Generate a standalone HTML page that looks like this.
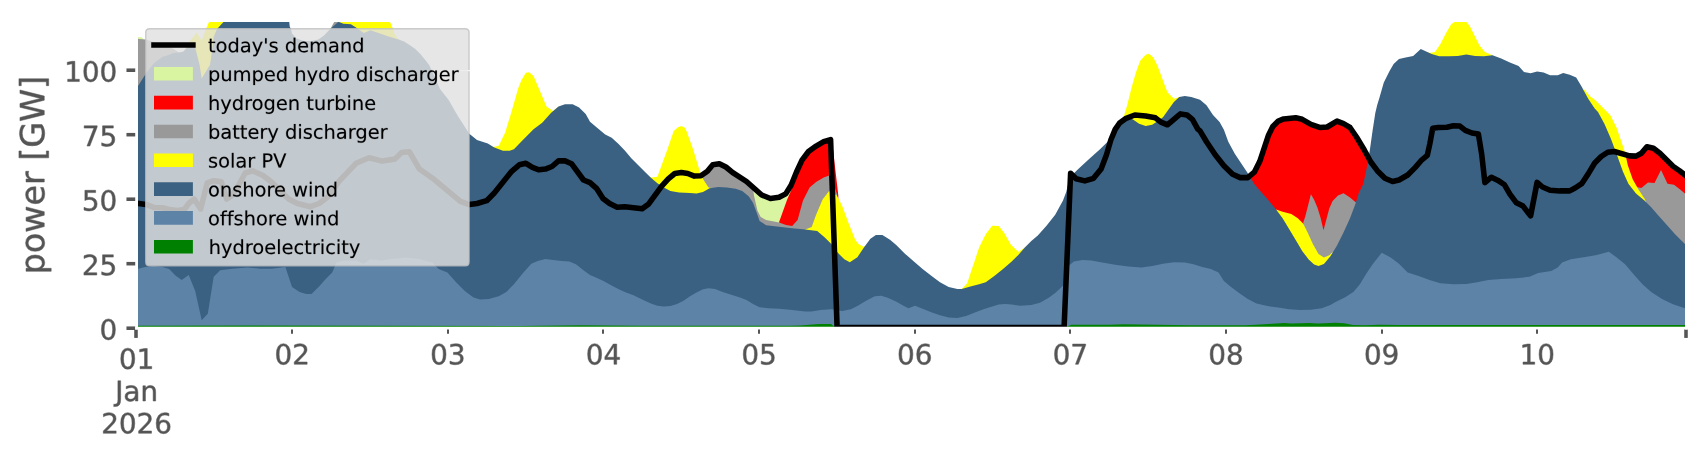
<!DOCTYPE html>
<html><head><meta charset="utf-8"><title>power chart</title>
<style>
html,body{margin:0;padding:0;background:#fff;font-family:"Liberation Sans",sans-serif;}
body{width:1706px;height:460px;overflow:hidden;}
svg{display:block;}
g[id^="text_"] path{vector-effect:non-scaling-stroke;}
</style></head><body>
<svg width="1706" height="460" viewBox="0 0 614.16 165.6" version="1.1">
 <defs>
  <style type="text/css">*{stroke-linejoin: round; stroke-linecap: butt}</style>
 </defs>
 <g id="figure_1">
  <g id="patch_1">
   <path d="M 0 165.6 
L 614.16 165.6 
L 614.16 0 
L 0 0 
z
" style="fill: #ffffff"/>
  </g>
  <g id="axes_1">
   <g id="patch_2">
    <path d="M 49.176 118.152 
L 607.104 118.152 
L 607.104 7.4376 
L 49.176 7.4376 
z
" style="fill: #ffffff"/>
   </g>
   <g id="patch_3">
    <path d="M 49.176 119.952 
L 49.176 13.32 
L 50.94 13.392 
L 51.768 14.112 
L 51.768 119.952 
z
" clip-path="url(#pe8a049c3de)" style="fill: #d9f5a2"/>
   </g>
   <g id="patch_4">
    <path d="M 271.476 119.952 
L 271.476 68.58 
L 271.872 68.328 
L 274.212 70.2 
L 277.344 71.46 
L 280.476 71.028 
L 282.852 69.804 
L 284.796 66.672 
L 285.948 65.88 
L 285.948 119.952 
z
" clip-path="url(#pe8a049c3de)" style="fill: #d9f5a2"/>
   </g>
   <g id="patch_5">
    <path d="M 280.476 119.952 
L 280.476 79.92 
L 283.32 72 
L 285.948 65.88 
L 286.74 61.992 
L 288.72 57.672 
L 291.06 54.54 
L 293.796 52.596 
L 296.532 51.012 
L 299.484 50.184 
L 301.788 70.272 
L 301.788 119.952 
z
" clip-path="url(#pe8a049c3de)" style="fill: #ff0000"/>
   </g>
   <g id="patch_6">
    <path d="M 449.208 119.952 
L 449.208 63 
L 451.548 61.992 
L 453.528 58.068 
L 455.076 53.388 
L 456.66 48.672 
L 458.208 45.54 
L 460.188 43.596 
L 462.132 42.804 
L 466.452 42.408 
L 468.792 42.948 
L 471.924 44.748 
L 475.056 45.864 
L 477.792 45.72 
L 479.736 44.532 
L 481.32 43.596 
L 483.66 44.532 
L 486 45.9 
L 488.34 49.32 
L 491.148 54 
L 493.38 57.96 
L 493.38 119.952 
z
" clip-path="url(#pe8a049c3de)" style="fill: #ff0000"/>
   </g>
   <g id="patch_7">
    <path d="M 584.64 119.952 
L 584.64 54.9 
L 586.62 56.124 
L 588.96 56.196 
L 590.904 55.188 
L 592.884 52.812 
L 595.224 53.388 
L 597.564 55.188 
L 599.904 57.528 
L 602.28 59.868 
L 604.62 61.452 
L 607.104 63.36 
L 607.104 119.952 
z
" clip-path="url(#pe8a049c3de)" style="fill: #ff0000"/>
   </g>
   <g id="patch_8">
    <path d="M 49.176 119.952 
L 49.176 13.932 
L 52.452 14.184 
L 57.6 15.84 
L 62.064 17.352 
L 64.404 18.9 
L 64.404 119.952 
z
" clip-path="url(#pe8a049c3de)" style="fill: #999999"/>
   </g>
   <g id="patch_9">
    <path d="M 118.872 119.952 
L 118.872 10.512 
L 120.312 7.92 
L 120.78 7.02 
L 121.824 7.02 
L 121.824 119.952 
z
" clip-path="url(#pe8a049c3de)" style="fill: #999999"/>
   </g>
   <g id="patch_10">
    <path d="M 252.324 119.952 
L 252.324 63.252 
L 254.664 61.668 
L 256.608 59.328 
L 258.948 58.932 
L 261.324 60.12 
L 263.664 62.064 
L 266.4 63.9 
L 268.74 65.34 
L 271.08 67.464 
L 271.476 70.56 
L 272.664 75.744 
L 273.852 78.12 
L 275.796 79.2 
L 280.476 80.064 
L 282.96 81 
L 285.192 81.36 
L 287.136 79.2 
L 289.08 72.144 
L 291.456 67.464 
L 293.796 65.52 
L 296.532 63.936 
L 298.476 63.144 
L 299.016 63 
L 301.356 70.02 
L 301.356 119.952 
z
" clip-path="url(#pe8a049c3de)" style="fill: #999999"/>
   </g>
   <g id="patch_11">
    <path d="M 469.188 119.952 
L 469.188 80.136 
L 469.944 77.796 
L 471.132 73.08 
L 471.924 69.948 
L 473.076 71.928 
L 474.264 74.664 
L 475.452 78.588 
L 476.46 82.872 
L 477.396 79.344 
L 478.548 75.06 
L 479.736 72.324 
L 481.68 70.344 
L 483.66 69.588 
L 486 71.136 
L 488.34 73.08 
L 488.88 71.28 
L 488.88 119.952 
z
" clip-path="url(#pe8a049c3de)" style="fill: #999999"/>
   </g>
   <g id="patch_12">
    <path d="M 588.6 119.952 
L 588.6 66.24 
L 588.96 67.32 
L 590.904 67.68 
L 593.28 65.736 
L 595.62 65.88 
L 597.96 61.2 
L 600.3 66.132 
L 602.64 66.528 
L 604.62 68.076 
L 606.564 69.66 
L 607.104 70.02 
L 607.104 119.952 
z
" clip-path="url(#pe8a049c3de)" style="fill: #999999"/>
   </g>
   <g id="patch_13">
    <path d="M 66.168 119.952 
L 66.168 18.504 
L 68.544 14.58 
L 70.884 11.7 
L 72.54 14.76 
L 74.16 10.44 
L 75.24 7.92 
L 76.32 3.6 
L 81 3.6 
L 81 119.952 
z
" clip-path="url(#pe8a049c3de)" style="fill: #ffff00"/>
   </g>
   <g id="patch_14">
    <path d="M 121.824 119.952 
L 121.824 8.028 
L 122.76 2.88 
L 139.86 2.88 
L 140.4 7.956 
L 141.192 9.72 
L 142.344 12.852 
L 143.532 14.22 
L 143.532 119.952 
z
" clip-path="url(#pe8a049c3de)" style="fill: #ffff00"/>
   </g>
   <g id="patch_15">
    <path d="M 177.588 119.952 
L 177.588 52.884 
L 179.532 52.452 
L 181.872 47.736 
L 184.212 39.924 
L 186.588 31.68 
L 187.74 28.8 
L 189.324 26.208 
L 190.476 26.028 
L 192.06 27.396 
L 194.4 32.868 
L 196.74 38.34 
L 199.08 39.924 
L 201.06 38.34 
L 201.06 119.952 
z
" clip-path="url(#pe8a049c3de)" style="fill: #ffff00"/>
   </g>
   <g id="patch_16">
    <path d="M 233.46 119.952 
L 233.46 63.54 
L 234.72 63.9 
L 236.664 63.612 
L 240.192 54 
L 242.532 47.16 
L 244.08 45.792 
L 245.268 45.396 
L 246.456 45.936 
L 247.212 47.34 
L 249.588 54 
L 251.928 61.668 
L 253.08 64.404 
L 255.06 67.536 
L 255.96 67.68 
L 255.96 119.952 
z
" clip-path="url(#pe8a049c3de)" style="fill: #ffff00"/>
   </g>
   <g id="patch_17">
    <path d="M 289.872 119.952 
L 289.872 82.656 
L 292.212 81.72 
L 293.796 77.328 
L 296.136 71.856 
L 298.476 68.724 
L 301.212 70.272 
L 303.192 74.196 
L 305.532 80.46 
L 307.872 86.328 
L 309.06 87.876 
L 311.004 88.92 
L 311.76 88.2 
L 311.76 119.952 
z
" clip-path="url(#pe8a049c3de)" style="fill: #ffff00"/>
   </g>
   <g id="patch_18">
    <path d="M 346.212 119.952 
L 346.212 104.076 
L 348.192 101.988 
L 349.344 98.46 
L 350.928 93.744 
L 352.476 89.064 
L 354.852 84.348 
L 357.192 81.252 
L 359.532 81.396 
L 361.476 83.808 
L 363.852 88.056 
L 366.588 90.612 
L 368.928 89.064 
L 368.928 119.952 
z
" clip-path="url(#pe8a049c3de)" style="fill: #ffff00"/>
   </g>
   <g id="patch_19">
    <path d="M 403.56 119.952 
L 403.56 43.56 
L 404.604 41.796 
L 405.792 37.872 
L 407.34 31.608 
L 408.924 26.136 
L 410.472 21.852 
L 412.452 19.728 
L 413.604 19.332 
L 415.188 20.664 
L 416.736 23.796 
L 418.32 28.08 
L 420.264 33.192 
L 422.604 35.532 
L 424.548 34.92 
L 424.548 119.952 
z
" clip-path="url(#pe8a049c3de)" style="fill: #ffff00"/>
   </g>
   <g id="patch_20">
    <path d="M 459.396 119.952 
L 459.396 75.456 
L 461.736 76.212 
L 464.868 77.004 
L 467.208 78.588 
L 469.188 80.532 
L 470.736 83.664 
L 472.68 87.948 
L 474.66 91.476 
L 476.604 92.664 
L 478.548 91.872 
L 479.736 90.72 
L 479.736 119.952 
z
" clip-path="url(#pe8a049c3de)" style="fill: #ffff00"/>
   </g>
   <g id="patch_21">
    <path d="M 513.72 119.952 
L 513.72 18.72 
L 514.62 19.08 
L 516.564 18.72 
L 518.508 15.948 
L 520.488 12.06 
L 522.432 8.748 
L 523.62 7.92 
L 524.16 5.4 
L 527.508 5.4 
L 527.904 7.92 
L 529.092 9.324 
L 531.036 13.212 
L 532.62 16.344 
L 534.564 18.72 
L 537.3 19.872 
L 537.3 119.952 
z
" clip-path="url(#pe8a049c3de)" style="fill: #ffff00"/>
   </g>
   <g id="patch_22">
    <path d="M 570.168 119.952 
L 570.168 32.004 
L 572.508 34.74 
L 574.236 36 
L 576.972 38.736 
L 579.708 41.472 
L 582.048 46.188 
L 583.92 51.66 
L 585 54.792 
L 586.008 59.472 
L 587.772 64.548 
L 589.752 68.076 
L 592.092 71.604 
L 592.56 72.72 
L 592.56 119.952 
z
" clip-path="url(#pe8a049c3de)" style="fill: #ffff00"/>
   </g>
   <g id="patch_23">
    <path d="M 49.176 119.952 
L 49.176 31.68 
L 49.68 30.996 
L 52.668 26.28 
L 55.404 22.788 
L 58.536 20.412 
L 60.48 19.872 
L 62.46 19.08 
L 64.404 18.9 
L 65.988 18.504 
L 68.544 15.84 
L 70.272 17.136 
L 71.856 23.4 
L 72.612 28.26 
L 75.564 23.4 
L 75.96 21.06 
L 76.932 13.212 
L 78.12 10.476 
L 80.46 7.956 
L 81.36 4.32 
L 103.752 4.32 
L 104.328 9.72 
L 104.724 10.296 
L 105.12 12.06 
L 106.668 13.824 
L 109.404 14.796 
L 112.212 14.796 
L 114.588 14.22 
L 116.532 12.852 
L 118.08 11.268 
L 119.088 10.296 
L 121.752 7.92 
L 122.04 7.884 
L 123.624 8.532 
L 126.324 8.712 
L 128.7 10.296 
L 131.004 11.844 
L 133.344 10.872 
L 135.72 11.664 
L 139.608 13.032 
L 143.532 14.22 
L 145.476 14.976 
L 147.456 16.164 
L 149.4 17.532 
L 151.344 19.476 
L 153.324 21.852 
L 154.476 23.4 
L 156.348 27.36 
L 158.4 32.076 
L 161.532 36 
L 164.664 41.472 
L 168.948 48.132 
L 171.72 50.4 
L 175.608 51.66 
L 177.948 53.136 
L 181.08 54.252 
L 183.456 54.252 
L 185.004 53.748 
L 188.136 50.472 
L 192.06 46.548 
L 195.192 44.208 
L 198.324 40.68 
L 201.06 38.34 
L 203.4 37.548 
L 206.136 37.548 
L 208.476 38.736 
L 210.852 41.076 
L 212.4 43.812 
L 214.74 45.792 
L 217.872 48.456 
L 220.212 49.608 
L 222.588 51.768 
L 224.928 54.144 
L 227.268 56.988 
L 229.608 59.328 
L 231.948 61.668 
L 234.324 64.008 
L 236.664 65.988 
L 239.004 67.536 
L 241.344 68.724 
L 244.476 69.336 
L 248.4 69.48 
L 250.74 69.66 
L 253.08 69.12 
L 255.456 67.788 
L 258.588 67.32 
L 261.72 67.536 
L 264.852 67.932 
L 267.192 68.724 
L 269.532 70.668 
L 271.08 73.008 
L 272.268 76.14 
L 273.456 79.56 
L 275.796 81.072 
L 280.476 81.612 
L 285.192 82.188 
L 289.872 82.656 
L 294.192 83.196 
L 296.928 85.536 
L 299.268 87.876 
L 301.608 91.008 
L 303.948 93.348 
L 305.928 94.392 
L 308.664 92.592 
L 311.004 89.064 
L 313.344 85.932 
L 315.324 84.6 
L 317.664 84.6 
L 320.4 86.328 
L 322.74 88.272 
L 325.872 91.404 
L 329.004 94.14 
L 332.136 96.876 
L 335.268 99.252 
L 338.4 101.592 
L 341.532 103.32 
L 344.664 104.076 
L 346.212 104.076 
L 349.344 103.14 
L 352.476 102.348 
L 354.852 101.592 
L 357.948 99.396 
L 361.08 96.876 
L 364.212 94.14 
L 366.588 91.8 
L 368.928 89.064 
L 371.268 86.724 
L 373.608 84.744 
L 376.74 81.252 
L 379.872 77.328 
L 382.68 72.144 
L 383.868 69.012 
L 384.84 64.8 
L 385.812 63.144 
L 388.188 60.804 
L 392.076 57.276 
L 396 53.748 
L 399.132 50.652 
L 402.264 45.54 
L 404.604 42.192 
L 407.736 42.948 
L 410.076 44.532 
L 412.452 45.324 
L 414.792 44.928 
L 417.132 43.344 
L 418.68 42.192 
L 420.66 39.456 
L 422.604 36.72 
L 424.548 34.92 
L 426.528 34.596 
L 428.868 34.92 
L 432 35.928 
L 434.34 37.872 
L 436.68 41.4 
L 439.056 43.92 
L 440.604 46.728 
L 442.188 51.012 
L 444.528 55.332 
L 446.868 58.86 
L 449.208 62.388 
L 451.548 66.276 
L 453.924 69.012 
L 456.264 71.604 
L 459.396 75.456 
L 461.736 78.588 
L 464.076 82.476 
L 466.452 86.4 
L 468.792 90.324 
L 471.132 93.456 
L 473.076 95.256 
L 474.66 95.796 
L 476.604 95.004 
L 478.944 92.268 
L 481.32 88.344 
L 483.66 83.664 
L 486 78.588 
L 487.944 73.476 
L 489.168 69.48 
L 490.788 66.24 
L 492.408 58.68 
L 493.2 53.604 
L 494.136 46.944 
L 495.108 40.68 
L 495.792 37.8 
L 496.62 35.136 
L 498.168 29.664 
L 500.148 25.74 
L 501.696 23.004 
L 503.64 21.276 
L 506.016 20.664 
L 508.752 20.124 
L 510.3 18.72 
L 511.488 17.676 
L 513.036 18.324 
L 515.412 19.476 
L 518.148 20.268 
L 521.64 20.268 
L 524.772 20.124 
L 527.904 19.656 
L 531.036 20.124 
L 534.168 20.268 
L 537.3 19.872 
L 540.432 21.06 
L 543.564 22.464 
L 546.696 23.796 
L 548.64 25.92 
L 551.016 26.388 
L 553.356 25.74 
L 555.696 26.136 
L 558.036 27.072 
L 560.772 27.072 
L 562.752 26.28 
L 565.092 26.928 
L 567.432 27.936 
L 569.412 31.212 
L 571.752 35.532 
L 574.092 39.06 
L 575.28 40.32 
L 577.62 44.604 
L 579.96 50.076 
L 582.3 56.34 
L 584.28 61.812 
L 586.224 66.132 
L 588.96 69.66 
L 592.092 72.252 
L 594.432 74.592 
L 596.772 77.328 
L 599.904 80.856 
L 603.036 84.348 
L 606.564 87.876 
L 607.104 88.38 
L 607.104 119.952 
z
" clip-path="url(#pe8a049c3de)" style="fill: #3b6182"/>
   </g>
   <g id="patch_24">
    <path d="M 49.176 119.952 
L 49.176 96.804 
L 49.788 96.732 
L 52.272 96.12 
L 55.404 95.724 
L 58.536 96.12 
L 60.876 96.876 
L 63.252 99.252 
L 65.412 100.8 
L 67.932 99 
L 70.272 104.724 
L 72.612 115.272 
L 74.808 112.932 
L 76.932 99.612 
L 79.272 97.272 
L 83.592 96.732 
L 89.064 96.264 
L 93.744 96.732 
L 97.668 96.732 
L 102.744 96.12 
L 105.12 103.32 
L 107.856 105.12 
L 110.196 105.876 
L 112.14 105.876 
L 114.876 103.14 
L 117.252 100.404 
L 119.592 98.064 
L 121.14 94.536 
L 123.48 93.744 
L 128.196 93.744 
L 130.932 94.932 
L 133.272 93.348 
L 137.592 93.744 
L 140.724 93.204 
L 146.196 92.736 
L 150.876 93.204 
L 155.592 94.536 
L 157.932 96.876 
L 161.064 98.064 
L 164.196 101.592 
L 167.328 104.724 
L 170.46 107.064 
L 172.8 107.856 
L 175.932 107.676 
L 179.532 106.668 
L 182.268 105.12 
L 185.004 102.348 
L 188.136 98.46 
L 191.268 94.932 
L 193.608 93.924 
L 196.344 93.276 
L 199.08 93.6 
L 202.212 93.924 
L 204.948 94.14 
L 207.324 95.148 
L 210.06 97.272 
L 212.4 99 
L 214.74 100.008 
L 217.08 101.052 
L 219.852 102.6 
L 222.588 104.076 
L 224.928 105.12 
L 228.06 106.272 
L 231.192 107.856 
L 234.324 109.26 
L 236.664 110.052 
L 239.004 110.34 
L 241.344 110.196 
L 243.72 109.404 
L 246.06 108.252 
L 248.4 106.668 
L 250.74 105.336 
L 253.08 104.148 
L 255.06 103.788 
L 257.4 104.076 
L 260.136 105.12 
L 263.268 106.128 
L 266.4 107.064 
L 268.74 108 
L 271.08 109.404 
L 273.456 110.592 
L 276.588 110.988 
L 280.476 111.132 
L 285.192 111.6 
L 289.872 112.14 
L 292.212 112.14 
L 295.344 111.6 
L 299.268 111.348 
L 303.192 111.924 
L 306.324 111.348 
L 308.664 110.196 
L 311.796 108.252 
L 314.928 106.668 
L 317.268 106.452 
L 319.608 107.208 
L 322.74 108.612 
L 325.08 109.944 
L 327.06 110.988 
L 329.4 110.052 
L 332.136 111.132 
L 335.268 112.392 
L 338.4 113.472 
L 341.532 114.264 
L 344.664 114.48 
L 347.796 113.724 
L 350.928 112.536 
L 354.06 111.348 
L 357.192 110.34 
L 359.532 109.656 
L 361.872 109.404 
L 364.212 109.656 
L 367.344 110.052 
L 371.268 109.8 
L 374.4 109.008 
L 377.532 107.208 
L 379.872 105.48 
L 382.212 103.32 
L 382.68 102.744 
L 384.66 95.724 
L 386.604 94.14 
L 389.736 93.6 
L 392.868 93.744 
L 396.792 94.536 
L 401.472 95.328 
L 406.188 95.94 
L 410.868 96.264 
L 414.792 95.724 
L 418.68 94.932 
L 422.604 94.392 
L 426.528 94.536 
L 429.66 95.148 
L 432.792 96.12 
L 435.924 96.876 
L 438.66 98.064 
L 440.604 101.196 
L 442.944 103.14 
L 446.076 105.48 
L 449.208 107.676 
L 452.34 109.26 
L 456.264 110.196 
L 460.188 110.736 
L 464.076 111.348 
L 468 111.6 
L 471.924 111.528 
L 475.812 110.988 
L 478.944 109.8 
L 480.96 108.612 
L 484.092 107.064 
L 487.224 105.12 
L 489.564 102.348 
L 491.904 98.46 
L 494.28 94.932 
L 497.412 91.008 
L 500.508 92.592 
L 503.64 94.932 
L 506.772 98.064 
L 510.696 99.396 
L 514.62 100.8 
L 518.508 101.988 
L 523.224 102.348 
L 527.904 102.204 
L 531.828 101.592 
L 535.752 100.8 
L 540.432 100.404 
L 545.904 100.188 
L 550.62 99.612 
L 553.752 98.28 
L 558.432 97.524 
L 560.772 96.264 
L 562.356 94.536 
L 565.488 93.348 
L 570.168 92.592 
L 574.884 91.8 
L 579.168 90.612 
L 581.904 92.592 
L 585.036 95.148 
L 588.168 98.856 
L 591.3 102.348 
L 594.432 105.12 
L 598.356 107.676 
L 602.28 109.548 
L 606.564 110.988 
L 607.104 111.168 
L 607.104 119.952 
z
" clip-path="url(#pe8a049c3de)" style="fill: #5d83a6"/>
   </g>
   <g id="matplotlib.axis_1">
    <g id="xtick_1">
     <g id="line2d_1"/>
     <g id="text_1">
      <g style="fill: #555555; stroke: #555555; stroke-width: 0.5" transform="translate(42.8135 132.750438) scale(0.1 -0.1)">
       <defs>
        <path id="DejaVuSans-30" d="M 2034 4250 
Q 1547 4250 1301 3770 
Q 1056 3291 1056 2328 
Q 1056 1369 1301 889 
Q 1547 409 2034 409 
Q 2525 409 2770 889 
Q 3016 1369 3016 2328 
Q 3016 3291 2770 3770 
Q 2525 4250 2034 4250 
z
M 2034 4750 
Q 2819 4750 3233 4129 
Q 3647 3509 3647 2328 
Q 3647 1150 3233 529 
Q 2819 -91 2034 -91 
Q 1250 -91 836 529 
Q 422 1150 422 2328 
Q 422 3509 836 4129 
Q 1250 4750 2034 4750 
z
" transform="scale(0.015625)"/>
        <path id="DejaVuSans-31" d="M 794 531 
L 1825 531 
L 1825 4091 
L 703 3866 
L 703 4441 
L 1819 4666 
L 2450 4666 
L 2450 531 
L 3481 531 
L 3481 0 
L 794 0 
L 794 531 
z
" transform="scale(0.015625)"/>
       </defs>
       <use href="#DejaVuSans-30"/>
       <use href="#DejaVuSans-31" transform="translate(63.623047 0)"/>
      </g>
      <g style="fill: #555555; stroke: #555555; stroke-width: 0.5" transform="translate(41.468187 144.366164) scale(0.1 -0.1)">
       <defs>
        <path id="DejaVuSans-4a" d="M 628 4666 
L 1259 4666 
L 1259 325 
Q 1259 -519 939 -900 
Q 619 -1281 -91 -1281 
L -331 -1281 
L -331 -750 
L -134 -750 
Q 284 -750 456 -515 
Q 628 -281 628 325 
L 628 4666 
z
" transform="scale(0.015625)"/>
        <path id="DejaVuSans-61" d="M 2194 1759 
Q 1497 1759 1228 1600 
Q 959 1441 959 1056 
Q 959 750 1161 570 
Q 1363 391 1709 391 
Q 2188 391 2477 730 
Q 2766 1069 2766 1631 
L 2766 1759 
L 2194 1759 
z
M 3341 1997 
L 3341 0 
L 2766 0 
L 2766 531 
Q 2569 213 2275 61 
Q 1981 -91 1556 -91 
Q 1019 -91 701 211 
Q 384 513 384 1019 
Q 384 1609 779 1909 
Q 1175 2209 1959 2209 
L 2766 2209 
L 2766 2266 
Q 2766 2663 2505 2880 
Q 2244 3097 1772 3097 
Q 1472 3097 1187 3025 
Q 903 2953 641 2809 
L 641 3341 
Q 956 3463 1253 3523 
Q 1550 3584 1831 3584 
Q 2591 3584 2966 3190 
Q 3341 2797 3341 1997 
z
" transform="scale(0.015625)"/>
        <path id="DejaVuSans-6e" d="M 3513 2113 
L 3513 0 
L 2938 0 
L 2938 2094 
Q 2938 2591 2744 2837 
Q 2550 3084 2163 3084 
Q 1697 3084 1428 2787 
Q 1159 2491 1159 1978 
L 1159 0 
L 581 0 
L 581 3500 
L 1159 3500 
L 1159 2956 
Q 1366 3272 1645 3428 
Q 1925 3584 2291 3584 
Q 2894 3584 3203 3211 
Q 3513 2838 3513 2113 
z
" transform="scale(0.015625)"/>
       </defs>
       <use href="#DejaVuSans-4a"/>
       <use href="#DejaVuSans-61" transform="translate(29.492188 0)"/>
       <use href="#DejaVuSans-6e" transform="translate(90.771484 0)"/>
      </g>
      <g style="fill: #555555; stroke: #555555; stroke-width: 0.5" transform="translate(36.451 155.981891) scale(0.1 -0.1)">
       <defs>
        <path id="DejaVuSans-32" d="M 1228 531 
L 3431 531 
L 3431 0 
L 469 0 
L 469 531 
Q 828 903 1448 1529 
Q 2069 2156 2228 2338 
Q 2531 2678 2651 2914 
Q 2772 3150 2772 3378 
Q 2772 3750 2511 3984 
Q 2250 4219 1831 4219 
Q 1534 4219 1204 4116 
Q 875 4013 500 3803 
L 500 4441 
Q 881 4594 1212 4672 
Q 1544 4750 1819 4750 
Q 2544 4750 2975 4387 
Q 3406 4025 3406 3419 
Q 3406 3131 3298 2873 
Q 3191 2616 2906 2266 
Q 2828 2175 2409 1742 
Q 1991 1309 1228 531 
z
" transform="scale(0.015625)"/>
        <path id="DejaVuSans-36" d="M 2113 2584 
Q 1688 2584 1439 2293 
Q 1191 2003 1191 1497 
Q 1191 994 1439 701 
Q 1688 409 2113 409 
Q 2538 409 2786 701 
Q 3034 994 3034 1497 
Q 3034 2003 2786 2293 
Q 2538 2584 2113 2584 
z
M 3366 4563 
L 3366 3988 
Q 3128 4100 2886 4159 
Q 2644 4219 2406 4219 
Q 1781 4219 1451 3797 
Q 1122 3375 1075 2522 
Q 1259 2794 1537 2939 
Q 1816 3084 2150 3084 
Q 2853 3084 3261 2657 
Q 3669 2231 3669 1497 
Q 3669 778 3244 343 
Q 2819 -91 2113 -91 
Q 1303 -91 875 529 
Q 447 1150 447 2328 
Q 447 3434 972 4092 
Q 1497 4750 2381 4750 
Q 2619 4750 2861 4703 
Q 3103 4656 3366 4563 
z
" transform="scale(0.015625)"/>
       </defs>
       <use href="#DejaVuSans-32"/>
       <use href="#DejaVuSans-30" transform="translate(63.623047 0)"/>
       <use href="#DejaVuSans-32" transform="translate(127.246094 0)"/>
       <use href="#DejaVuSans-36" transform="translate(190.869141 0)"/>
      </g>
     </g>
    </g>
    <g id="xtick_2">
     <g id="line2d_2"/>
    </g>
    <g id="xtick_3">
     <g id="line2d_3"/>
     <g id="text_2">
      <g style="fill: #555555; stroke: #555555; stroke-width: 0.5" transform="translate(98.839743 131.150438) scale(0.1 -0.1)">
       <use href="#DejaVuSans-30"/>
       <use href="#DejaVuSans-32" transform="translate(63.623047 0)"/>
      </g>
     </g>
    </g>
    <g id="xtick_4">
     <g id="line2d_4"/>
     <g id="text_3">
      <g style="fill: #555555; stroke: #555555; stroke-width: 0.5" transform="translate(154.865985 131.150438) scale(0.1 -0.1)">
       <defs>
        <path id="DejaVuSans-33" d="M 2597 2516 
Q 3050 2419 3304 2112 
Q 3559 1806 3559 1356 
Q 3559 666 3084 287 
Q 2609 -91 1734 -91 
Q 1441 -91 1130 -33 
Q 819 25 488 141 
L 488 750 
Q 750 597 1062 519 
Q 1375 441 1716 441 
Q 2309 441 2620 675 
Q 2931 909 2931 1356 
Q 2931 1769 2642 2001 
Q 2353 2234 1838 2234 
L 1294 2234 
L 1294 2753 
L 1863 2753 
Q 2328 2753 2575 2939 
Q 2822 3125 2822 3475 
Q 2822 3834 2567 4026 
Q 2313 4219 1838 4219 
Q 1578 4219 1281 4162 
Q 984 4106 628 3988 
L 628 4550 
Q 988 4650 1302 4700 
Q 1616 4750 1894 4750 
Q 2613 4750 3031 4423 
Q 3450 4097 3450 3541 
Q 3450 3153 3228 2886 
Q 3006 2619 2597 2516 
z
" transform="scale(0.015625)"/>
       </defs>
       <use href="#DejaVuSans-30"/>
       <use href="#DejaVuSans-33" transform="translate(63.623047 0)"/>
      </g>
     </g>
    </g>
    <g id="xtick_5">
     <g id="line2d_5"/>
     <g id="text_4">
      <g style="fill: #555555; stroke: #555555; stroke-width: 0.5" transform="translate(210.892228 131.150438) scale(0.1 -0.1)">
       <defs>
        <path id="DejaVuSans-34" d="M 2419 4116 
L 825 1625 
L 2419 1625 
L 2419 4116 
z
M 2253 4666 
L 3047 4666 
L 3047 1625 
L 3713 1625 
L 3713 1100 
L 3047 1100 
L 3047 0 
L 2419 0 
L 2419 1100 
L 313 1100 
L 313 1709 
L 2253 4666 
z
" transform="scale(0.015625)"/>
       </defs>
       <use href="#DejaVuSans-30"/>
       <use href="#DejaVuSans-34" transform="translate(63.623047 0)"/>
      </g>
     </g>
    </g>
    <g id="xtick_6">
     <g id="line2d_6"/>
     <g id="text_5">
      <g style="fill: #555555; stroke: #555555; stroke-width: 0.5" transform="translate(266.918471 131.150438) scale(0.1 -0.1)">
       <defs>
        <path id="DejaVuSans-35" d="M 691 4666 
L 3169 4666 
L 3169 4134 
L 1269 4134 
L 1269 2991 
Q 1406 3038 1543 3061 
Q 1681 3084 1819 3084 
Q 2600 3084 3056 2656 
Q 3513 2228 3513 1497 
Q 3513 744 3044 326 
Q 2575 -91 1722 -91 
Q 1428 -91 1123 -41 
Q 819 9 494 109 
L 494 744 
Q 775 591 1075 516 
Q 1375 441 1709 441 
Q 2250 441 2565 725 
Q 2881 1009 2881 1497 
Q 2881 1984 2565 2268 
Q 2250 2553 1709 2553 
Q 1456 2553 1204 2497 
Q 953 2441 691 2322 
L 691 4666 
z
" transform="scale(0.015625)"/>
       </defs>
       <use href="#DejaVuSans-30"/>
       <use href="#DejaVuSans-35" transform="translate(63.623047 0)"/>
      </g>
     </g>
    </g>
    <g id="xtick_7">
     <g id="line2d_7"/>
     <g id="text_6">
      <g style="fill: #555555; stroke: #555555; stroke-width: 0.5" transform="translate(322.944713 131.150438) scale(0.1 -0.1)">
       <use href="#DejaVuSans-30"/>
       <use href="#DejaVuSans-36" transform="translate(63.623047 0)"/>
      </g>
     </g>
    </g>
    <g id="xtick_8">
     <g id="line2d_8"/>
     <g id="text_7">
      <g style="fill: #555555; stroke: #555555; stroke-width: 0.5" transform="translate(378.970956 131.150438) scale(0.1 -0.1)">
       <defs>
        <path id="DejaVuSans-37" d="M 525 4666 
L 3525 4666 
L 3525 4397 
L 1831 0 
L 1172 0 
L 2766 4134 
L 525 4134 
L 525 4666 
z
" transform="scale(0.015625)"/>
       </defs>
       <use href="#DejaVuSans-30"/>
       <use href="#DejaVuSans-37" transform="translate(63.623047 0)"/>
      </g>
     </g>
    </g>
    <g id="xtick_9">
     <g id="line2d_9"/>
     <g id="text_8">
      <g style="fill: #555555; stroke: #555555; stroke-width: 0.5" transform="translate(434.997199 131.150438) scale(0.1 -0.1)">
       <defs>
        <path id="DejaVuSans-38" d="M 2034 2216 
Q 1584 2216 1326 1975 
Q 1069 1734 1069 1313 
Q 1069 891 1326 650 
Q 1584 409 2034 409 
Q 2484 409 2743 651 
Q 3003 894 3003 1313 
Q 3003 1734 2745 1975 
Q 2488 2216 2034 2216 
z
M 1403 2484 
Q 997 2584 770 2862 
Q 544 3141 544 3541 
Q 544 4100 942 4425 
Q 1341 4750 2034 4750 
Q 2731 4750 3128 4425 
Q 3525 4100 3525 3541 
Q 3525 3141 3298 2862 
Q 3072 2584 2669 2484 
Q 3125 2378 3379 2068 
Q 3634 1759 3634 1313 
Q 3634 634 3220 271 
Q 2806 -91 2034 -91 
Q 1263 -91 848 271 
Q 434 634 434 1313 
Q 434 1759 690 2068 
Q 947 2378 1403 2484 
z
M 1172 3481 
Q 1172 3119 1398 2916 
Q 1625 2713 2034 2713 
Q 2441 2713 2670 2916 
Q 2900 3119 2900 3481 
Q 2900 3844 2670 4047 
Q 2441 4250 2034 4250 
Q 1625 4250 1398 4047 
Q 1172 3844 1172 3481 
z
" transform="scale(0.015625)"/>
       </defs>
       <use href="#DejaVuSans-30"/>
       <use href="#DejaVuSans-38" transform="translate(63.623047 0)"/>
      </g>
     </g>
    </g>
    <g id="xtick_10">
     <g id="line2d_10"/>
     <g id="text_9">
      <g style="fill: #555555; stroke: #555555; stroke-width: 0.5" transform="translate(491.023441 131.150438) scale(0.1 -0.1)">
       <defs>
        <path id="DejaVuSans-39" d="M 703 97 
L 703 672 
Q 941 559 1184 500 
Q 1428 441 1663 441 
Q 2288 441 2617 861 
Q 2947 1281 2994 2138 
Q 2813 1869 2534 1725 
Q 2256 1581 1919 1581 
Q 1219 1581 811 2004 
Q 403 2428 403 3163 
Q 403 3881 828 4315 
Q 1253 4750 1959 4750 
Q 2769 4750 3195 4129 
Q 3622 3509 3622 2328 
Q 3622 1225 3098 567 
Q 2575 -91 1691 -91 
Q 1453 -91 1209 -44 
Q 966 3 703 97 
z
M 1959 2075 
Q 2384 2075 2632 2365 
Q 2881 2656 2881 3163 
Q 2881 3666 2632 3958 
Q 2384 4250 1959 4250 
Q 1534 4250 1286 3958 
Q 1038 3666 1038 3163 
Q 1038 2656 1286 2365 
Q 1534 2075 1959 2075 
z
" transform="scale(0.015625)"/>
       </defs>
       <use href="#DejaVuSans-30"/>
       <use href="#DejaVuSans-39" transform="translate(63.623047 0)"/>
      </g>
     </g>
    </g>
    <g id="xtick_11">
     <g id="line2d_11"/>
     <g id="text_10">
      <g style="fill: #555555; stroke: #555555; stroke-width: 0.5" transform="translate(547.049684 131.150438) scale(0.1 -0.1)">
       <use href="#DejaVuSans-31"/>
       <use href="#DejaVuSans-30" transform="translate(63.623047 0)"/>
      </g>
     </g>
    </g>
   </g>
   <g id="matplotlib.axis_2">
    <g id="ytick_1">
     <g id="line2d_12">
      <defs>
       <path id="m2b1300bd8d" d="M 0 0 
L -3.65 0 
" style="stroke: #555555; stroke-width: 1.28"/>
      </defs>
      <g>
       <use href="#m2b1300bd8d" x="49.176" y="118.152" style="fill: #555555; stroke: #555555; stroke-width: 1.28"/>
      </g>
     </g>
     <g id="text_11">
      <g style="fill: #555555; stroke: #555555; stroke-width: 0.5" transform="translate(35.8435 122.239219) scale(0.1 -0.1)">
       <use href="#DejaVuSans-30"/>
      </g>
     </g>
    </g>
    <g id="ytick_2">
     <g id="line2d_13">
      <g>
       <use href="#m2b1300bd8d" x="49.176" y="94.932" style="fill: #555555; stroke: #555555; stroke-width: 1.28"/>
      </g>
     </g>
     <g id="text_12">
      <g style="fill: #555555; stroke: #555555; stroke-width: 0.5" transform="translate(29.481 99.019219) scale(0.1 -0.1)">
       <use href="#DejaVuSans-32"/>
       <use href="#DejaVuSans-35" transform="translate(63.623047 0)"/>
      </g>
     </g>
    </g>
    <g id="ytick_3">
     <g id="line2d_14">
      <g>
       <use href="#m2b1300bd8d" x="49.176" y="71.712" style="fill: #555555; stroke: #555555; stroke-width: 1.28"/>
      </g>
     </g>
     <g id="text_13">
      <g style="fill: #555555; stroke: #555555; stroke-width: 0.5" transform="translate(29.481 75.799219) scale(0.1 -0.1)">
       <use href="#DejaVuSans-35"/>
       <use href="#DejaVuSans-30" transform="translate(63.623047 0)"/>
      </g>
     </g>
    </g>
    <g id="ytick_4">
     <g id="line2d_15">
      <g>
       <use href="#m2b1300bd8d" x="49.176" y="48.492" style="fill: #555555; stroke: #555555; stroke-width: 1.28"/>
      </g>
     </g>
     <g id="text_14">
      <g style="fill: #555555; stroke: #555555; stroke-width: 0.5" transform="translate(29.481 52.579219) scale(0.1 -0.1)">
       <use href="#DejaVuSans-37"/>
       <use href="#DejaVuSans-35" transform="translate(63.623047 0)"/>
      </g>
     </g>
    </g>
    <g id="ytick_5">
     <g id="line2d_16">
      <g>
       <use href="#m2b1300bd8d" x="49.176" y="25.272" style="fill: #555555; stroke: #555555; stroke-width: 1.28"/>
      </g>
     </g>
     <g id="text_15">
      <g style="fill: #555555; stroke: #555555; stroke-width: 0.5" transform="translate(23.1185 29.359219) scale(0.1 -0.1)">
       <use href="#DejaVuSans-31"/>
       <use href="#DejaVuSans-30" transform="translate(63.623047 0)"/>
       <use href="#DejaVuSans-30" transform="translate(127.246094 0)"/>
      </g>
     </g>
    </g>
    <g id="text_16">
     <g style="fill: #555555; stroke: #555555; stroke-width: 0.5" transform="translate(15.936375 98.762738) rotate(-90) scale(0.12 -0.12)">
      <defs>
       <path id="DejaVuSans-70" d="M 1159 525 
L 1159 -1331 
L 581 -1331 
L 581 3500 
L 1159 3500 
L 1159 2969 
Q 1341 3281 1617 3432 
Q 1894 3584 2278 3584 
Q 2916 3584 3314 3078 
Q 3713 2572 3713 1747 
Q 3713 922 3314 415 
Q 2916 -91 2278 -91 
Q 1894 -91 1617 61 
Q 1341 213 1159 525 
z
M 3116 1747 
Q 3116 2381 2855 2742 
Q 2594 3103 2138 3103 
Q 1681 3103 1420 2742 
Q 1159 2381 1159 1747 
Q 1159 1113 1420 752 
Q 1681 391 2138 391 
Q 2594 391 2855 752 
Q 3116 1113 3116 1747 
z
" transform="scale(0.015625)"/>
       <path id="DejaVuSans-6f" d="M 1959 3097 
Q 1497 3097 1228 2736 
Q 959 2375 959 1747 
Q 959 1119 1226 758 
Q 1494 397 1959 397 
Q 2419 397 2687 759 
Q 2956 1122 2956 1747 
Q 2956 2369 2687 2733 
Q 2419 3097 1959 3097 
z
M 1959 3584 
Q 2709 3584 3137 3096 
Q 3566 2609 3566 1747 
Q 3566 888 3137 398 
Q 2709 -91 1959 -91 
Q 1206 -91 779 398 
Q 353 888 353 1747 
Q 353 2609 779 3096 
Q 1206 3584 1959 3584 
z
" transform="scale(0.015625)"/>
       <path id="DejaVuSans-77" d="M 269 3500 
L 844 3500 
L 1563 769 
L 2278 3500 
L 2956 3500 
L 3675 769 
L 4391 3500 
L 4966 3500 
L 4050 0 
L 3372 0 
L 2619 2869 
L 1863 0 
L 1184 0 
L 269 3500 
z
" transform="scale(0.015625)"/>
       <path id="DejaVuSans-65" d="M 3597 1894 
L 3597 1613 
L 953 1613 
Q 991 1019 1311 708 
Q 1631 397 2203 397 
Q 2534 397 2845 478 
Q 3156 559 3463 722 
L 3463 178 
Q 3153 47 2828 -22 
Q 2503 -91 2169 -91 
Q 1331 -91 842 396 
Q 353 884 353 1716 
Q 353 2575 817 3079 
Q 1281 3584 2069 3584 
Q 2775 3584 3186 3129 
Q 3597 2675 3597 1894 
z
M 3022 2063 
Q 3016 2534 2758 2815 
Q 2500 3097 2075 3097 
Q 1594 3097 1305 2825 
Q 1016 2553 972 2059 
L 3022 2063 
z
" transform="scale(0.015625)"/>
       <path id="DejaVuSans-72" d="M 2631 2963 
Q 2534 3019 2420 3045 
Q 2306 3072 2169 3072 
Q 1681 3072 1420 2755 
Q 1159 2438 1159 1844 
L 1159 0 
L 581 0 
L 581 3500 
L 1159 3500 
L 1159 2956 
Q 1341 3275 1631 3429 
Q 1922 3584 2338 3584 
Q 2397 3584 2469 3576 
Q 2541 3569 2628 3553 
L 2631 2963 
z
" transform="scale(0.015625)"/>
       <path id="DejaVuSans-20" transform="scale(0.015625)"/>
       <path id="DejaVuSans-5b" d="M 550 4863 
L 1875 4863 
L 1875 4416 
L 1125 4416 
L 1125 -397 
L 1875 -397 
L 1875 -844 
L 550 -844 
L 550 4863 
z
" transform="scale(0.015625)"/>
       <path id="DejaVuSans-47" d="M 3809 666 
L 3809 1919 
L 2778 1919 
L 2778 2438 
L 4434 2438 
L 4434 434 
Q 4069 175 3628 42 
Q 3188 -91 2688 -91 
Q 1594 -91 976 548 
Q 359 1188 359 2328 
Q 359 3472 976 4111 
Q 1594 4750 2688 4750 
Q 3144 4750 3555 4637 
Q 3966 4525 4313 4306 
L 4313 3634 
Q 3963 3931 3569 4081 
Q 3175 4231 2741 4231 
Q 1884 4231 1454 3753 
Q 1025 3275 1025 2328 
Q 1025 1384 1454 906 
Q 1884 428 2741 428 
Q 3075 428 3337 486 
Q 3600 544 3809 666 
z
" transform="scale(0.015625)"/>
       <path id="DejaVuSans-57" d="M 213 4666 
L 850 4666 
L 1831 722 
L 2809 4666 
L 3519 4666 
L 4500 722 
L 5478 4666 
L 6119 4666 
L 4947 0 
L 4153 0 
L 3169 4050 
L 2175 0 
L 1381 0 
L 213 4666 
z
" transform="scale(0.015625)"/>
       <path id="DejaVuSans-5d" d="M 1947 4863 
L 1947 -844 
L 622 -844 
L 622 -397 
L 1369 -397 
L 1369 4416 
L 622 4416 
L 622 4863 
L 1947 4863 
z
" transform="scale(0.015625)"/>
      </defs>
      <use href="#DejaVuSans-70"/>
      <use href="#DejaVuSans-6f" transform="translate(63.476562 0)"/>
      <use href="#DejaVuSans-77" transform="translate(124.658203 0)"/>
      <use href="#DejaVuSans-65" transform="translate(206.445312 0)"/>
      <use href="#DejaVuSans-72" transform="translate(267.96875 0)"/>
      <use href="#DejaVuSans-20" transform="translate(309.082031 0)"/>
      <use href="#DejaVuSans-5b" transform="translate(340.869141 0)"/>
      <use href="#DejaVuSans-47" transform="translate(379.882812 0)"/>
      <use href="#DejaVuSans-57" transform="translate(457.373047 0)"/>
      <use href="#DejaVuSans-5d" transform="translate(556.25 0)"/>
     </g>
    </g>
   </g>
   <g id="patch_25">
    <path d="M 49.176 119.952 
L 49.176 117.252 
L 90 117.216 
L 187.2 117.324 
L 208.8 117.108 
L 230.4 117.252 
L 284.4 117.288 
L 288 117.216 
L 293.76 116.748 
L 295.2 116.604 
L 299.16 116.604 
L 300.06 117.36 
L 301.32 117.468 
L 383.04 117.468 
L 384.228 117.54 
L 385.632 116.928 
L 399.6 116.892 
L 404.46 116.748 
L 410.4 116.856 
L 428.4 117.072 
L 448.2 117.072 
L 452.16 116.928 
L 457.92 116.568 
L 462.42 116.28 
L 464.94 116.496 
L 471.24 116.28 
L 474.48 116.424 
L 480.78 116.208 
L 483.84 116.352 
L 487.08 117 
L 491.4 117.072 
L 496.44 116.892 
L 504 117 
L 607.104 116.964 
L 607.104 119.952 
z
" clip-path="url(#pe8a049c3de)" style="fill: #008000"/>
   </g>
   <g id="line2d_17">
    <path d="M 49.176 73.188 
L 52.668 73.656 
L 55.404 74.664 
L 58.536 74.808 
L 61.272 75.456 
L 63.72 75.78 
L 66.348 75.42 
L 67.932 73.26 
L 69.876 71.676 
L 72.252 75.204 
L 74.592 65.808 
L 76.932 65.052 
L 79.668 65.412 
L 81.612 71.676 
L 83.196 70.524 
L 85.14 68.148 
L 88.272 62.28 
L 91.008 61.524 
L 94.536 63.072 
L 97.668 65.412 
L 103.932 71.676 
L 107.064 73.26 
L 111.744 74.412 
L 114.876 73.26 
L 118.008 70.92 
L 121.932 65.412 
L 128.196 58.788 
L 132.876 56.808 
L 137.592 57.996 
L 142.272 57.204 
L 144.612 54.864 
L 147.348 54.612 
L 150.876 60.732 
L 156.348 64.656 
L 165.744 72.468 
L 168.948 73.656 
L 171.72 73.26 
L 175.212 72.252 
L 177.948 69.48 
L 184.212 61.668 
L 186.948 59.328 
L 189.324 58.788 
L 191.664 60.264 
L 194.004 61.128 
L 196.344 60.876 
L 198.72 59.94 
L 201.06 57.924 
L 203.4 57.924 
L 205.74 58.932 
L 210.06 64.8 
L 212.4 65.736 
L 214.74 67.788 
L 217.08 71.46 
L 219.456 73.26 
L 222.192 74.592 
L 224.928 74.412 
L 231.192 75.132 
L 233.532 73.404 
L 238.212 66.996 
L 240.588 64.404 
L 242.928 62.46 
L 245.268 62.136 
L 247.608 62.46 
L 249.948 63.396 
L 252.324 63.252 
L 254.664 61.668 
L 256.608 59.328 
L 258.948 58.932 
L 261.324 60.12 
L 263.664 62.064 
L 268.74 65.34 
L 274.212 70.2 
L 277.344 71.46 
L 280.476 71.028 
L 282.852 69.804 
L 284.796 66.672 
L 286.74 61.92 
L 288.72 57.672 
L 291.06 54.54 
L 293.796 52.596 
L 296.532 51.012 
L 299.016 50.256 
L 301.356 117.882 
L 383.076 117.882 
L 385.416 62.388 
L 387.396 64.332 
L 390.528 65.124 
L 393.66 64.188 
L 396.396 60.804 
L 398.34 55.728 
L 399.924 50.328 
L 401.472 46.584 
L 403.056 44.28 
L 405.396 42.588 
L 408.528 41.4 
L 412.452 41.796 
L 415.944 42.408 
L 417.924 43.992 
L 420.264 44.928 
L 424.944 41.004 
L 427.32 41.4 
L 429.264 42.948 
L 431.208 46.476 
L 432 47.124 
L 434.34 51.012 
L 437.472 55.728 
L 440.604 59.652 
L 443.736 62.748 
L 446.472 63.936 
L 449.208 63.936 
L 451.548 61.992 
L 453.528 58.068 
L 456.66 48.672 
L 458.208 45.54 
L 460.188 43.596 
L 462.132 42.804 
L 466.452 42.408 
L 468.792 42.948 
L 471.924 44.748 
L 475.056 45.864 
L 477.792 45.72 
L 481.32 43.596 
L 483.66 44.532 
L 486 45.9 
L 488.34 49.32 
L 491.148 54 
L 493.488 58.32 
L 495.828 61.452 
L 498.564 64.188 
L 501.3 65.34 
L 503.64 64.8 
L 506.772 63 
L 509.508 60.264 
L 511.884 57.528 
L 513.828 55.944 
L 514.764 51.66 
L 515.772 46.188 
L 517.752 45.936 
L 520.884 45.792 
L 523.224 45.252 
L 525.564 45.396 
L 527.508 46.944 
L 529.884 47.88 
L 532.224 48.276 
L 533.412 55.548 
L 534.564 65.736 
L 536.904 63.792 
L 539.28 64.944 
L 541.62 66.528 
L 543.564 69.876 
L 545.904 73.008 
L 548.28 74.196 
L 551.016 77.724 
L 553.356 65.664 
L 555.3 67.32 
L 558.036 68.472 
L 561.564 68.724 
L 565.092 68.724 
L 567.036 67.68 
L 569.412 66.132 
L 571.752 62.604 
L 574.092 58.68 
L 576.432 56.34 
L 578.772 54.792 
L 581.148 54.54 
L 586.62 56.124 
L 588.96 56.196 
L 590.904 55.188 
L 592.884 52.812 
L 595.224 53.388 
L 597.564 55.188 
L 602.28 59.868 
L 604.62 61.452 
L 607.104 63.36 
L 607.104 63.36 
" clip-path="url(#pe8a049c3de)" style="fill: none; stroke: #000000; stroke-width: 2; stroke-linecap: square"/>
   </g>
   <g id="line2d_18">
    <path d="M 48.96 118.152 
L 48.96 121.652 
" style="fill: none; stroke: #555555; stroke-width: 1.28"/>
   </g>
   <g id="line2d_19">
    <path d="M 606.96 118.152 
L 606.96 121.652 
" style="fill: none; stroke: #555555; stroke-width: 1.28"/>
   </g>
   <g id="line2d_20">
    <path d="M 105.12 118.152 
L 105.12 120.152 
" style="fill: none; stroke: #555555; stroke-width: 0.72"/>
   </g>
   <g id="line2d_21">
    <path d="M 161.28 118.152 
L 161.28 120.152 
" style="fill: none; stroke: #555555; stroke-width: 0.72"/>
   </g>
   <g id="line2d_22">
    <path d="M 217.08 118.152 
L 217.08 120.152 
" style="fill: none; stroke: #555555; stroke-width: 0.72"/>
   </g>
   <g id="line2d_23">
    <path d="M 273.24 118.152 
L 273.24 120.152 
" style="fill: none; stroke: #555555; stroke-width: 0.72"/>
   </g>
   <g id="line2d_24">
    <path d="M 329.4 118.152 
L 329.4 120.152 
" style="fill: none; stroke: #555555; stroke-width: 0.72"/>
   </g>
   <g id="line2d_25">
    <path d="M 385.2 118.152 
L 385.2 120.152 
" style="fill: none; stroke: #555555; stroke-width: 0.72"/>
   </g>
   <g id="line2d_26">
    <path d="M 441.36 118.152 
L 441.36 120.152 
" style="fill: none; stroke: #555555; stroke-width: 0.72"/>
   </g>
   <g id="line2d_27">
    <path d="M 497.52 118.152 
L 497.52 120.152 
" style="fill: none; stroke: #555555; stroke-width: 0.72"/>
   </g>
   <g id="line2d_28">
    <path d="M 553.32 118.152 
L 553.32 120.152 
" style="fill: none; stroke: #555555; stroke-width: 0.72"/>
   </g>
   <g id="patch_26">
    <path d="M 49.176 118.152 
L 49.176 7.4376 
" style="fill: none; stroke: #ffffff; stroke-linejoin: miter; stroke-linecap: square"/>
   </g>
   <g id="patch_27">
    <path d="M 607.104 118.152 
L 607.104 7.4376 
" style="fill: none; stroke: #ffffff; stroke-linejoin: miter; stroke-linecap: square"/>
   </g>
   <g id="patch_28">
    <path d="M 49.176 118.152 
L 607.104 118.152 
" style="fill: none; stroke: #ffffff; stroke-linejoin: miter; stroke-linecap: square"/>
   </g>
   <g id="patch_29">
    <path d="M 49.176 7.4376 
L 607.104 7.4376 
" style="fill: none; stroke: #ffffff; stroke-linejoin: miter; stroke-linecap: square"/>
   </g>
   <g id="patch_30">
    <path d="M 53.858 10.3464 
L 167.47 10.3464 
Q 168.858 10.3464 168.858 11.7344 
L 168.858 94.318 
Q 168.858 95.706 167.47 95.706 
L 53.858 95.706 
Q 52.47 95.706 52.47 94.318 
L 52.47 11.7344 
Q 52.47 10.3464 53.858 10.3464 
z
" style="fill: #e0e0e0; fill-opacity: 0.82; stroke: #bfbfbf; stroke-opacity: 0.8; stroke-width: 0.5; stroke-linejoin: miter"/>
   </g>
   <g id="line2d_29">
    <path d="M 55.44 16.1748 
L 69.444 16.1748 
" style="fill: none; stroke: #000000; stroke-width: 2; stroke-linecap: square"/>
   </g>
   <g id="patch_31">
    <path d="M 55.44 24.12 
L 69.444 24.12 
L 69.444 29.016 
L 55.44 29.016 
z
" style="fill: #d9f5a2"/>
   </g>
   <g id="patch_32">
    <path d="M 55.44 34.4952 
L 69.444 34.4952 
L 69.444 39.3912 
L 55.44 39.3912 
z
" style="fill: #ff0000"/>
   </g>
   <g id="patch_33">
    <path d="M 55.44 44.8704 
L 69.444 44.8704 
L 69.444 49.7664 
L 55.44 49.7664 
z
" style="fill: #999999"/>
   </g>
   <g id="patch_34">
    <path d="M 55.44 55.2456 
L 69.444 55.2456 
L 69.444 60.1416 
L 55.44 60.1416 
z
" style="fill: #ffff00"/>
   </g>
   <g id="patch_35">
    <path d="M 55.44 65.6208 
L 69.444 65.6208 
L 69.444 70.5168 
L 55.44 70.5168 
z
" style="fill: #3b6182"/>
   </g>
   <g id="patch_36">
    <path d="M 55.44 75.996 
L 69.444 75.996 
L 69.444 80.892 
L 55.44 80.892 
z
" style="fill: #5d83a6"/>
   </g>
   <g id="patch_37">
    <path d="M 55.44 86.3712 
L 69.444 86.3712 
L 69.444 91.2672 
L 55.44 91.2672 
z
" style="fill: #008000"/>
   </g>
   <g id="text_17">
    <g style="fill: #000000; stroke: #000000; stroke-width: 0.15" transform="translate(74.88 18.8208) scale(0.069886 -0.0694)">
     <defs>
      <path id="DejaVuSans-74" d="M 1172 4494 
L 1172 3500 
L 2356 3500 
L 2356 3053 
L 1172 3053 
L 1172 1153 
Q 1172 725 1289 603 
Q 1406 481 1766 481 
L 2356 481 
L 2356 0 
L 1766 0 
Q 1100 0 847 248 
Q 594 497 594 1153 
L 594 3053 
L 172 3053 
L 172 3500 
L 594 3500 
L 594 4494 
L 1172 4494 
z
" transform="scale(0.015625)"/>
      <path id="DejaVuSans-64" d="M 2906 2969 
L 2906 4863 
L 3481 4863 
L 3481 0 
L 2906 0 
L 2906 525 
Q 2725 213 2448 61 
Q 2172 -91 1784 -91 
Q 1150 -91 751 415 
Q 353 922 353 1747 
Q 353 2572 751 3078 
Q 1150 3584 1784 3584 
Q 2172 3584 2448 3432 
Q 2725 3281 2906 2969 
z
M 947 1747 
Q 947 1113 1208 752 
Q 1469 391 1925 391 
Q 2381 391 2643 752 
Q 2906 1113 2906 1747 
Q 2906 2381 2643 2742 
Q 2381 3103 1925 3103 
Q 1469 3103 1208 2742 
Q 947 2381 947 1747 
z
" transform="scale(0.015625)"/>
      <path id="DejaVuSans-79" d="M 2059 -325 
Q 1816 -950 1584 -1140 
Q 1353 -1331 966 -1331 
L 506 -1331 
L 506 -850 
L 844 -850 
Q 1081 -850 1212 -737 
Q 1344 -625 1503 -206 
L 1606 56 
L 191 3500 
L 800 3500 
L 1894 763 
L 2988 3500 
L 3597 3500 
L 2059 -325 
z
" transform="scale(0.015625)"/>
      <path id="DejaVuSans-27" d="M 1147 4666 
L 1147 2931 
L 616 2931 
L 616 4666 
L 1147 4666 
z
" transform="scale(0.015625)"/>
      <path id="DejaVuSans-73" d="M 2834 3397 
L 2834 2853 
Q 2591 2978 2328 3040 
Q 2066 3103 1784 3103 
Q 1356 3103 1142 2972 
Q 928 2841 928 2578 
Q 928 2378 1081 2264 
Q 1234 2150 1697 2047 
L 1894 2003 
Q 2506 1872 2764 1633 
Q 3022 1394 3022 966 
Q 3022 478 2636 193 
Q 2250 -91 1575 -91 
Q 1294 -91 989 -36 
Q 684 19 347 128 
L 347 722 
Q 666 556 975 473 
Q 1284 391 1588 391 
Q 1994 391 2212 530 
Q 2431 669 2431 922 
Q 2431 1156 2273 1281 
Q 2116 1406 1581 1522 
L 1381 1569 
Q 847 1681 609 1914 
Q 372 2147 372 2553 
Q 372 3047 722 3315 
Q 1072 3584 1716 3584 
Q 2034 3584 2315 3537 
Q 2597 3491 2834 3397 
z
" transform="scale(0.015625)"/>
      <path id="DejaVuSans-6d" d="M 3328 2828 
Q 3544 3216 3844 3400 
Q 4144 3584 4550 3584 
Q 5097 3584 5394 3201 
Q 5691 2819 5691 2113 
L 5691 0 
L 5113 0 
L 5113 2094 
Q 5113 2597 4934 2840 
Q 4756 3084 4391 3084 
Q 3944 3084 3684 2787 
Q 3425 2491 3425 1978 
L 3425 0 
L 2847 0 
L 2847 2094 
Q 2847 2600 2669 2842 
Q 2491 3084 2119 3084 
Q 1678 3084 1418 2786 
Q 1159 2488 1159 1978 
L 1159 0 
L 581 0 
L 581 3500 
L 1159 3500 
L 1159 2956 
Q 1356 3278 1631 3431 
Q 1906 3584 2284 3584 
Q 2666 3584 2933 3390 
Q 3200 3197 3328 2828 
z
" transform="scale(0.015625)"/>
     </defs>
     <use href="#DejaVuSans-74"/>
     <use href="#DejaVuSans-6f" transform="translate(39.208984 0)"/>
     <use href="#DejaVuSans-64" transform="translate(100.390625 0)"/>
     <use href="#DejaVuSans-61" transform="translate(163.867188 0)"/>
     <use href="#DejaVuSans-79" transform="translate(225.146484 0)"/>
     <use href="#DejaVuSans-27" transform="translate(284.326172 0)"/>
     <use href="#DejaVuSans-73" transform="translate(311.816406 0)"/>
     <use href="#DejaVuSans-20" transform="translate(363.916016 0)"/>
     <use href="#DejaVuSans-64" transform="translate(395.703125 0)"/>
     <use href="#DejaVuSans-65" transform="translate(459.179688 0)"/>
     <use href="#DejaVuSans-6d" transform="translate(520.703125 0)"/>
     <use href="#DejaVuSans-61" transform="translate(618.115234 0)"/>
     <use href="#DejaVuSans-6e" transform="translate(679.394531 0)"/>
     <use href="#DejaVuSans-64" transform="translate(742.773438 0)"/>
    </g>
   </g>
   <g id="text_18">
    <g style="fill: #000000; stroke: #000000; stroke-width: 0.15" transform="translate(74.88 29.196) scale(0.069886 -0.0694)">
     <defs>
      <path id="DejaVuSans-75" d="M 544 1381 
L 544 3500 
L 1119 3500 
L 1119 1403 
Q 1119 906 1312 657 
Q 1506 409 1894 409 
Q 2359 409 2629 706 
Q 2900 1003 2900 1516 
L 2900 3500 
L 3475 3500 
L 3475 0 
L 2900 0 
L 2900 538 
Q 2691 219 2414 64 
Q 2138 -91 1772 -91 
Q 1169 -91 856 284 
Q 544 659 544 1381 
z
M 1991 3584 
L 1991 3584 
z
" transform="scale(0.015625)"/>
      <path id="DejaVuSans-68" d="M 3513 2113 
L 3513 0 
L 2938 0 
L 2938 2094 
Q 2938 2591 2744 2837 
Q 2550 3084 2163 3084 
Q 1697 3084 1428 2787 
Q 1159 2491 1159 1978 
L 1159 0 
L 581 0 
L 581 4863 
L 1159 4863 
L 1159 2956 
Q 1366 3272 1645 3428 
Q 1925 3584 2291 3584 
Q 2894 3584 3203 3211 
Q 3513 2838 3513 2113 
z
" transform="scale(0.015625)"/>
      <path id="DejaVuSans-69" d="M 603 3500 
L 1178 3500 
L 1178 0 
L 603 0 
L 603 3500 
z
M 603 4863 
L 1178 4863 
L 1178 4134 
L 603 4134 
L 603 4863 
z
" transform="scale(0.015625)"/>
      <path id="DejaVuSans-63" d="M 3122 3366 
L 3122 2828 
Q 2878 2963 2633 3030 
Q 2388 3097 2138 3097 
Q 1578 3097 1268 2742 
Q 959 2388 959 1747 
Q 959 1106 1268 751 
Q 1578 397 2138 397 
Q 2388 397 2633 464 
Q 2878 531 3122 666 
L 3122 134 
Q 2881 22 2623 -34 
Q 2366 -91 2075 -91 
Q 1284 -91 818 406 
Q 353 903 353 1747 
Q 353 2603 823 3093 
Q 1294 3584 2113 3584 
Q 2378 3584 2631 3529 
Q 2884 3475 3122 3366 
z
" transform="scale(0.015625)"/>
      <path id="DejaVuSans-67" d="M 2906 1791 
Q 2906 2416 2648 2759 
Q 2391 3103 1925 3103 
Q 1463 3103 1205 2759 
Q 947 2416 947 1791 
Q 947 1169 1205 825 
Q 1463 481 1925 481 
Q 2391 481 2648 825 
Q 2906 1169 2906 1791 
z
M 3481 434 
Q 3481 -459 3084 -895 
Q 2688 -1331 1869 -1331 
Q 1566 -1331 1297 -1286 
Q 1028 -1241 775 -1147 
L 775 -588 
Q 1028 -725 1275 -790 
Q 1522 -856 1778 -856 
Q 2344 -856 2625 -561 
Q 2906 -266 2906 331 
L 2906 616 
Q 2728 306 2450 153 
Q 2172 0 1784 0 
Q 1141 0 747 490 
Q 353 981 353 1791 
Q 353 2603 747 3093 
Q 1141 3584 1784 3584 
Q 2172 3584 2450 3431 
Q 2728 3278 2906 2969 
L 2906 3500 
L 3481 3500 
L 3481 434 
z
" transform="scale(0.015625)"/>
     </defs>
     <use href="#DejaVuSans-70"/>
     <use href="#DejaVuSans-75" transform="translate(63.476562 0)"/>
     <use href="#DejaVuSans-6d" transform="translate(126.855469 0)"/>
     <use href="#DejaVuSans-70" transform="translate(224.267578 0)"/>
     <use href="#DejaVuSans-65" transform="translate(287.744141 0)"/>
     <use href="#DejaVuSans-64" transform="translate(349.267578 0)"/>
     <use href="#DejaVuSans-20" transform="translate(412.744141 0)"/>
     <use href="#DejaVuSans-68" transform="translate(444.53125 0)"/>
     <use href="#DejaVuSans-79" transform="translate(507.910156 0)"/>
     <use href="#DejaVuSans-64" transform="translate(567.089844 0)"/>
     <use href="#DejaVuSans-72" transform="translate(630.566406 0)"/>
     <use href="#DejaVuSans-6f" transform="translate(669.429688 0)"/>
     <use href="#DejaVuSans-20" transform="translate(730.611328 0)"/>
     <use href="#DejaVuSans-64" transform="translate(762.398438 0)"/>
     <use href="#DejaVuSans-69" transform="translate(825.875 0)"/>
     <use href="#DejaVuSans-73" transform="translate(853.658203 0)"/>
     <use href="#DejaVuSans-63" transform="translate(905.757812 0)"/>
     <use href="#DejaVuSans-68" transform="translate(960.738281 0)"/>
     <use href="#DejaVuSans-61" transform="translate(1024.117188 0)"/>
     <use href="#DejaVuSans-72" transform="translate(1085.396484 0)"/>
     <use href="#DejaVuSans-67" transform="translate(1124.759766 0)"/>
     <use href="#DejaVuSans-65" transform="translate(1188.236328 0)"/>
     <use href="#DejaVuSans-72" transform="translate(1249.759766 0)"/>
    </g>
   </g>
   <g id="text_19">
    <g style="fill: #000000; stroke: #000000; stroke-width: 0.15" transform="translate(74.88 39.5712) scale(0.069886 -0.0694)">
     <defs>
      <path id="DejaVuSans-62" d="M 3116 1747 
Q 3116 2381 2855 2742 
Q 2594 3103 2138 3103 
Q 1681 3103 1420 2742 
Q 1159 2381 1159 1747 
Q 1159 1113 1420 752 
Q 1681 391 2138 391 
Q 2594 391 2855 752 
Q 3116 1113 3116 1747 
z
M 1159 2969 
Q 1341 3281 1617 3432 
Q 1894 3584 2278 3584 
Q 2916 3584 3314 3078 
Q 3713 2572 3713 1747 
Q 3713 922 3314 415 
Q 2916 -91 2278 -91 
Q 1894 -91 1617 61 
Q 1341 213 1159 525 
L 1159 0 
L 581 0 
L 581 4863 
L 1159 4863 
L 1159 2969 
z
" transform="scale(0.015625)"/>
     </defs>
     <use href="#DejaVuSans-68"/>
     <use href="#DejaVuSans-79" transform="translate(63.378906 0)"/>
     <use href="#DejaVuSans-64" transform="translate(122.558594 0)"/>
     <use href="#DejaVuSans-72" transform="translate(186.035156 0)"/>
     <use href="#DejaVuSans-6f" transform="translate(224.898438 0)"/>
     <use href="#DejaVuSans-67" transform="translate(286.080078 0)"/>
     <use href="#DejaVuSans-65" transform="translate(349.556641 0)"/>
     <use href="#DejaVuSans-6e" transform="translate(411.080078 0)"/>
     <use href="#DejaVuSans-20" transform="translate(474.458984 0)"/>
     <use href="#DejaVuSans-74" transform="translate(506.246094 0)"/>
     <use href="#DejaVuSans-75" transform="translate(545.455078 0)"/>
     <use href="#DejaVuSans-72" transform="translate(608.833984 0)"/>
     <use href="#DejaVuSans-62" transform="translate(649.947266 0)"/>
     <use href="#DejaVuSans-69" transform="translate(713.423828 0)"/>
     <use href="#DejaVuSans-6e" transform="translate(741.207031 0)"/>
     <use href="#DejaVuSans-65" transform="translate(804.585938 0)"/>
    </g>
   </g>
   <g id="text_20">
    <g style="fill: #000000; stroke: #000000; stroke-width: 0.15" transform="translate(74.88 49.9464) scale(0.069886 -0.0694)">
     <use href="#DejaVuSans-62"/>
     <use href="#DejaVuSans-61" transform="translate(63.476562 0)"/>
     <use href="#DejaVuSans-74" transform="translate(124.755859 0)"/>
     <use href="#DejaVuSans-74" transform="translate(163.964844 0)"/>
     <use href="#DejaVuSans-65" transform="translate(203.173828 0)"/>
     <use href="#DejaVuSans-72" transform="translate(264.697266 0)"/>
     <use href="#DejaVuSans-79" transform="translate(305.810547 0)"/>
     <use href="#DejaVuSans-20" transform="translate(364.990234 0)"/>
     <use href="#DejaVuSans-64" transform="translate(396.777344 0)"/>
     <use href="#DejaVuSans-69" transform="translate(460.253906 0)"/>
     <use href="#DejaVuSans-73" transform="translate(488.037109 0)"/>
     <use href="#DejaVuSans-63" transform="translate(540.136719 0)"/>
     <use href="#DejaVuSans-68" transform="translate(595.117188 0)"/>
     <use href="#DejaVuSans-61" transform="translate(658.496094 0)"/>
     <use href="#DejaVuSans-72" transform="translate(719.775391 0)"/>
     <use href="#DejaVuSans-67" transform="translate(759.138672 0)"/>
     <use href="#DejaVuSans-65" transform="translate(822.615234 0)"/>
     <use href="#DejaVuSans-72" transform="translate(884.138672 0)"/>
    </g>
   </g>
   <g id="text_21">
    <g style="fill: #000000; stroke: #000000; stroke-width: 0.15" transform="translate(74.88 60.3216) scale(0.069886 -0.0694)">
     <defs>
      <path id="DejaVuSans-6c" d="M 603 4863 
L 1178 4863 
L 1178 0 
L 603 0 
L 603 4863 
z
" transform="scale(0.015625)"/>
      <path id="DejaVuSans-50" d="M 1259 4147 
L 1259 2394 
L 2053 2394 
Q 2494 2394 2734 2622 
Q 2975 2850 2975 3272 
Q 2975 3691 2734 3919 
Q 2494 4147 2053 4147 
L 1259 4147 
z
M 628 4666 
L 2053 4666 
Q 2838 4666 3239 4311 
Q 3641 3956 3641 3272 
Q 3641 2581 3239 2228 
Q 2838 1875 2053 1875 
L 1259 1875 
L 1259 0 
L 628 0 
L 628 4666 
z
" transform="scale(0.015625)"/>
      <path id="DejaVuSans-56" d="M 1831 0 
L 50 4666 
L 709 4666 
L 2188 738 
L 3669 4666 
L 4325 4666 
L 2547 0 
L 1831 0 
z
" transform="scale(0.015625)"/>
     </defs>
     <use href="#DejaVuSans-73"/>
     <use href="#DejaVuSans-6f" transform="translate(52.099609 0)"/>
     <use href="#DejaVuSans-6c" transform="translate(113.28125 0)"/>
     <use href="#DejaVuSans-61" transform="translate(141.064453 0)"/>
     <use href="#DejaVuSans-72" transform="translate(202.34375 0)"/>
     <use href="#DejaVuSans-20" transform="translate(243.457031 0)"/>
     <use href="#DejaVuSans-50" transform="translate(275.244141 0)"/>
     <use href="#DejaVuSans-56" transform="translate(335.546875 0)"/>
    </g>
   </g>
   <g id="text_22">
    <g style="fill: #000000; stroke: #000000; stroke-width: 0.15" transform="translate(74.88 70.6968) scale(0.069886 -0.0694)">
     <use href="#DejaVuSans-6f"/>
     <use href="#DejaVuSans-6e" transform="translate(61.181641 0)"/>
     <use href="#DejaVuSans-73" transform="translate(124.560547 0)"/>
     <use href="#DejaVuSans-68" transform="translate(176.660156 0)"/>
     <use href="#DejaVuSans-6f" transform="translate(240.039062 0)"/>
     <use href="#DejaVuSans-72" transform="translate(301.220703 0)"/>
     <use href="#DejaVuSans-65" transform="translate(340.083984 0)"/>
     <use href="#DejaVuSans-20" transform="translate(401.607422 0)"/>
     <use href="#DejaVuSans-77" transform="translate(433.394531 0)"/>
     <use href="#DejaVuSans-69" transform="translate(515.181641 0)"/>
     <use href="#DejaVuSans-6e" transform="translate(542.964844 0)"/>
     <use href="#DejaVuSans-64" transform="translate(606.34375 0)"/>
    </g>
   </g>
   <g id="text_23">
    <g style="fill: #000000; stroke: #000000; stroke-width: 0.15" transform="translate(74.88 81.072) scale(0.069886 -0.0694)">
     <defs>
      <path id="DejaVuSans-66" d="M 2375 4863 
L 2375 4384 
L 1825 4384 
Q 1516 4384 1395 4259 
Q 1275 4134 1275 3809 
L 1275 3500 
L 2222 3500 
L 2222 3053 
L 1275 3053 
L 1275 0 
L 697 0 
L 697 3053 
L 147 3053 
L 147 3500 
L 697 3500 
L 697 3744 
Q 697 4328 969 4595 
Q 1241 4863 1831 4863 
L 2375 4863 
z
" transform="scale(0.015625)"/>
     </defs>
     <use href="#DejaVuSans-6f"/>
     <use href="#DejaVuSans-66" transform="translate(61.181641 0)"/>
     <use href="#DejaVuSans-66" transform="translate(96.386719 0)"/>
     <use href="#DejaVuSans-73" transform="translate(131.591797 0)"/>
     <use href="#DejaVuSans-68" transform="translate(183.691406 0)"/>
     <use href="#DejaVuSans-6f" transform="translate(247.070312 0)"/>
     <use href="#DejaVuSans-72" transform="translate(308.251953 0)"/>
     <use href="#DejaVuSans-65" transform="translate(347.115234 0)"/>
     <use href="#DejaVuSans-20" transform="translate(408.638672 0)"/>
     <use href="#DejaVuSans-77" transform="translate(440.425781 0)"/>
     <use href="#DejaVuSans-69" transform="translate(522.212891 0)"/>
     <use href="#DejaVuSans-6e" transform="translate(549.996094 0)"/>
     <use href="#DejaVuSans-64" transform="translate(613.375 0)"/>
    </g>
   </g>
   <g id="text_24">
    <g style="fill: #000000; stroke: #000000; stroke-width: 0.15" transform="translate(75.132 91.4472) scale(0.069886 -0.0694)">
     <use href="#DejaVuSans-68"/>
     <use href="#DejaVuSans-79" transform="translate(63.378906 0)"/>
     <use href="#DejaVuSans-64" transform="translate(122.558594 0)"/>
     <use href="#DejaVuSans-72" transform="translate(186.035156 0)"/>
     <use href="#DejaVuSans-6f" transform="translate(224.898438 0)"/>
     <use href="#DejaVuSans-65" transform="translate(286.080078 0)"/>
     <use href="#DejaVuSans-6c" transform="translate(347.603516 0)"/>
     <use href="#DejaVuSans-65" transform="translate(375.386719 0)"/>
     <use href="#DejaVuSans-63" transform="translate(436.910156 0)"/>
     <use href="#DejaVuSans-74" transform="translate(491.890625 0)"/>
     <use href="#DejaVuSans-72" transform="translate(531.099609 0)"/>
     <use href="#DejaVuSans-69" transform="translate(572.212891 0)"/>
     <use href="#DejaVuSans-63" transform="translate(599.996094 0)"/>
     <use href="#DejaVuSans-69" transform="translate(654.976562 0)"/>
     <use href="#DejaVuSans-74" transform="translate(682.759766 0)"/>
     <use href="#DejaVuSans-79" transform="translate(721.96875 0)"/>
    </g>
   </g>
   <g id="line2d_30">
    <path d="M 165.528 25.434 
L 168.336 25.434 
" style="fill: none; stroke: #ffffff; stroke-opacity: 0.3; stroke-width: 0.4"/>
   </g>
   <g id="line2d_31">
    <path d="M 168.336 25.434 
L 169.272 25.434 
" style="fill: none; stroke: #ffffff; stroke-opacity: 0.85; stroke-width: 0.4"/>
   </g>
  </g>
 </g>
 <defs>
  <clipPath id="pe8a049c3de">
   <rect x="49.176" y="7.4376" width="557.928" height="110.7144"/>
  </clipPath>
 </defs>
</svg>

</body></html>
